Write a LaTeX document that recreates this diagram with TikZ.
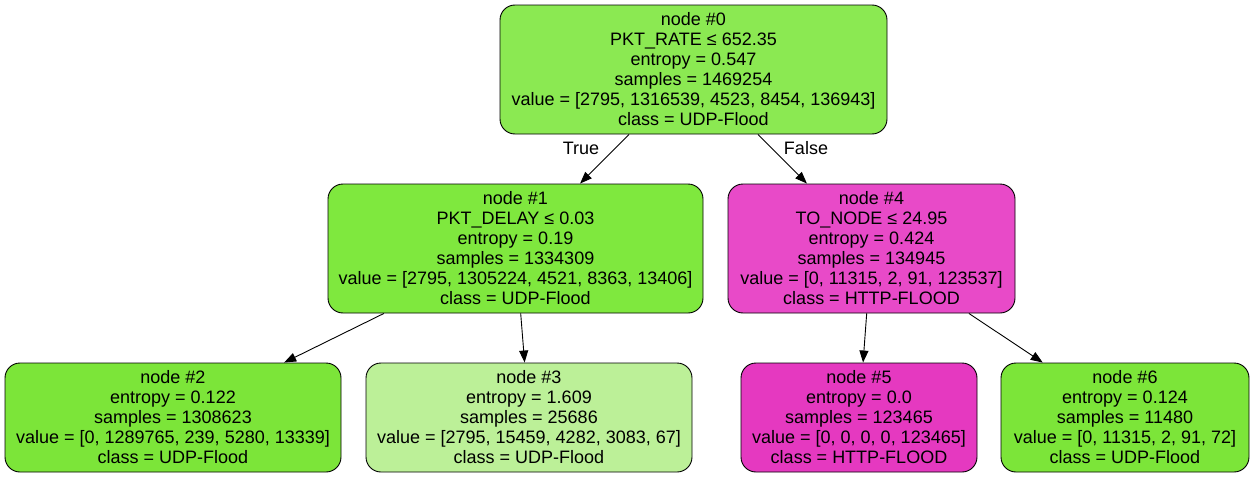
\documentclass[tikz,border=0pt]{standalone}
\usepackage{fontspec}
\setmainfont{Liberation Sans}
\usetikzlibrary{arrows.meta}
\definecolor{cA}{RGB}{139,233,82}
\definecolor{cB}{RGB}{127,232,62}
\definecolor{cG}{RGB}{124,229,57}
\definecolor{cL}{RGB}{188,240,152}
\definecolor{cM}{RGB}{232,74,200}
\definecolor{cP}{RGB}{229,57,192}
\tikzset{
  tnode/.style={draw=black, line width=0.9pt, rounded corners=15pt, align=center,
    inner sep=0pt, font=\fontsize{18}{20}\selectfont},
  edge/.style={line width=0.9pt, -{Triangle[length=12pt,width=9pt]}},
  elabel/.style={font=\fontsize{18}{20}\selectfont}
}
\begin{document}
\begin{tikzpicture}[x=1pt,y=-1pt]
\useasboundingbox (0,0) rectangle (1254,479);
\node[tnode, fill=cA, minimum width=387pt, minimum height=129pt] (n0) at (693.5,69.5)
  {node \#0\\PKT\_RATE ≤ 652.35\\entropy = 0.547\\samples = 1469254\\value = [2795, 1316539, 4523, 8454, 136943]\\class = UDP-Flood};
\node[tnode, fill=cB, minimum width=375pt, minimum height=129pt] (n1) at (515.5,248.5)
  {node \#1\\PKT\_DELAY ≤ 0.03\\entropy = 0.19\\samples = 1334309\\value = [2795, 1305224, 4521, 8363, 13406]\\class = UDP-Flood};
\node[tnode, fill=cM, minimum width=287pt, minimum height=129pt] (n4) at (871.5,248.5)
  {node \#4\\TO\_NODE ≤ 24.95\\entropy = 0.424\\samples = 134945\\value = [0, 11315, 2, 91, 123537]\\class = HTTP-FLOOD};
\node[tnode, fill=cG, minimum width=336pt, minimum height=109pt] (n2) at (173,417.5)
  {node \#2\\entropy = 0.122\\samples = 1308623\\value = [0, 1289765, 239, 5280, 13339]\\class = UDP-Flood};
\node[tnode, fill=cL, minimum width=326pt, minimum height=109pt] (n3) at (529,417.5)
  {node \#3\\entropy = 1.609\\samples = 25686\\value = [2795, 15459, 4282, 3083, 67]\\class = UDP-Flood};
\node[tnode, fill=cP, minimum width=236pt, minimum height=109pt] (n5) at (859,417.5)
  {node \#5\\entropy = 0.0\\samples = 123465\\value = [0, 0, 0, 0, 123465]\\class = HTTP-FLOOD};
\node[tnode, fill=cG, minimum width=248pt, minimum height=109pt] (n6) at (1125,417.5)
  {node \#6\\entropy = 0.124\\samples = 11480\\value = [0, 11315, 2, 91, 72]\\class = UDP-Flood};
\draw[edge] (n0) -- (n1);
\draw[edge] (n0) -- (n4);
\draw[edge] (n1) -- (n2);
\draw[edge] (n1) -- (n3);
\draw[edge] (n4) -- (n5);
\draw[edge] (n4) -- (n6);
\node[elabel] (lt) at (581,148) {True};
\node[elabel] (lf) at (806,148) {False};
\end{tikzpicture}
\end{document}
